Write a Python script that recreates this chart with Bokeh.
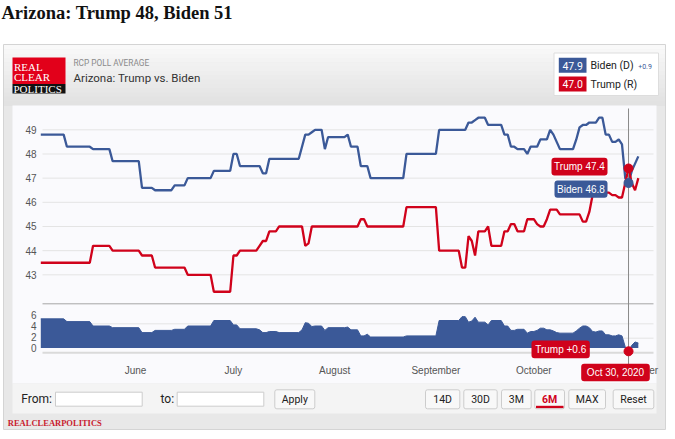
import datetime as dt
from bokeh.plotting import figure
from bokeh.models import (Range1d, FixedTicker, DatetimeTickFormatter,
                          BoxAnnotation, Label)
from bokeh.embed import file_html
from bokeh.resources import INLINE

# ---------------- data ----------------
dates = ["2020-05-03", "2020-05-10", "2020-05-11", "2020-05-18", "2020-05-19", "2020-05-24",
         "2020-05-25", "2020-06-02", "2020-06-03", "2020-06-06", "2020-06-07", "2020-06-12",
         "2020-06-13", "2020-06-16", "2020-06-17", "2020-06-24", "2020-06-25", "2020-06-30",
         "2020-07-01", "2020-07-02", "2020-07-03", "2020-07-08", "2020-07-09", "2020-07-10",
         "2020-07-11", "2020-07-12", "2020-07-14", "2020-07-15", "2020-07-21", "2020-07-22",
         "2020-07-23", "2020-07-24", "2020-07-25", "2020-07-26", "2020-07-28", "2020-07-29",
         "2020-07-30", "2020-08-04", "2020-08-05", "2020-08-06", "2020-08-08", "2020-08-09",
         "2020-08-10", "2020-08-11", "2020-08-12", "2020-08-22", "2020-08-23", "2020-09-01",
         "2020-09-02", "2020-09-08", "2020-09-09", "2020-09-10", "2020-09-11", "2020-09-12",
         "2020-09-13", "2020-09-14", "2020-09-16", "2020-09-17", "2020-09-18", "2020-09-21",
         "2020-09-22", "2020-09-23", "2020-09-24", "2020-09-25", "2020-09-26", "2020-09-28",
         "2020-09-29", "2020-09-30", "2020-10-01", "2020-10-02", "2020-10-03", "2020-10-04",
         "2020-10-05", "2020-10-06", "2020-10-07", "2020-10-08", "2020-10-09", "2020-10-13",
         "2020-10-14", "2020-10-15", "2020-10-16", "2020-10-17", "2020-10-18", "2020-10-19",
         "2020-10-20", "2020-10-21", "2020-10-22", "2020-10-23", "2020-10-24", "2020-10-25",
         "2020-10-26", "2020-10-27", "2020-10-28", "2020-10-29", "2020-10-30", "2020-10-31",
         "2020-11-01", "2020-11-02"]
biden = [48.8, 48.8, 48.3, 48.3, 48.2, 48.2,
         47.7, 47.7, 46.6, 46.6, 46.5, 46.5,
         46.7, 46.7, 47.0, 47.0, 47.3, 47.3,
         48.0, 48.0, 47.5, 47.5, 47.5, 47.2,
         47.2, 47.8, 47.8, 47.8, 47.8, 48.3,
         48.8, 48.8, 48.9, 49.0, 49.0, 48.2,
         48.7, 48.7, 48.8, 48.3, 48.3, 47.5,
         47.5, 47.5, 47.0, 47.0, 48.0, 48.0,
         49.0, 49.0, 49.0, 49.0, 49.3, 49.3,
         49.4, 49.5, 49.5, 49.2, 49.2, 49.2,
         48.8, 48.8, 48.3, 48.3, 48.2, 48.2,
         48.0, 48.3, 48.3, 48.3, 48.6, 48.6,
         48.6, 49.0, 48.8, 48.5, 48.2, 48.2,
         48.6, 49.1, 49.2, 49.2, 49.3, 49.3,
         49.3, 49.5, 49.5, 48.8, 48.8, 48.5,
         48.5, 48.6, 48.4, 47.0, 46.8, 47.3,
         47.6, 47.9]
trump = [43.5, 43.5, 43.5, 43.5, 44.2, 44.2,
         44.0, 44.0, 43.8, 43.8, 43.3, 43.3,
         43.3, 43.3, 43.0, 43.0, 42.3, 42.3,
         43.8, 43.8, 44.0, 44.0, 44.2, 44.4,
         44.4, 44.8, 44.8, 45.0, 45.0, 45.0,
         44.2, 44.3, 45.0, 45.0, 45.0, 45.0,
         45.0, 45.0, 45.0, 45.0, 45.0, 45.3,
         45.3, 45.0, 45.0, 45.0, 45.8, 45.8,
         44.0, 44.0, 43.3, 43.3, 44.6, 44.4,
         43.8, 44.8, 44.8, 45.0, 44.2, 44.2,
         44.8, 44.8, 45.1, 45.1, 44.8, 44.8,
         45.3, 45.3, 45.3, 45.1, 45.0, 45.0,
         45.3, 45.7, 45.7, 45.7, 45.5, 45.5,
         45.5, 45.5, 45.2, 45.2, 45.6, 46.3,
         46.4, 46.4, 46.4, 46.4, 46.4, 46.3,
         46.3, 46.2, 46.2, 46.8, 47.4, 46.8,
         46.5, 47.0]
month_ticks = ["2020-06-01", "2020-07-01", "2020-08-01", "2020-09-01", "2020-10-01",
               "2020-11-01"]
main_ticks = [43, 44, 45, 46, 47, 48, 49]
nav_ticks = [0, 2, 4, 6]
hover_date = "2020-10-30"
headline = "Arizona: Trump 48, Biden 51"
chart_name = "Arizona: Trump vs. Biden"

BLUE = "#3b5998"
RED = "#d0021b"
PANEL = "#fafafd"

# ---------------- geometry ----------------
W, H = 675, 439
PL, PR = 42, 653                 # left / right edge of the plotting area (page px)
EPOCH = dt.datetime(1970, 1, 1)


def ms(d):
    return (d - EPOCH).total_seconds() * 1000.0


XA = ms(dt.datetime(2020, 5, 3, 12, 30))      # date at PL
XB = ms(dt.datetime(2020, 11, 6, 15, 36))     # date at PR
Y49, PX_PER = 129.3, 24.17                    # main scale: y px of 49, px per point
NAV_ZERO, NAV_PX = 347.5, 5.5                 # navigator scale


def X(px):
    return XA + (px - PL) * (XB - XA) / (PR - PL)


def Y(py):
    return 49 - (py - Y49) / PX_PER


def NV(py):
    return (NAV_ZERO - py) / NAV_PX


xd = [dt.datetime.strptime(s, "%Y-%m-%d") for s in dates]
spread = [round(b - t, 2) for b, t in zip(biden, trump)]
hi = dates.index(hover_date)
hx = ms(xd[hi])

p = figure(width=W, height=H, x_axis_type="datetime", title=None,
           x_range=Range1d(X(0), X(W)), y_range=Range1d(Y(H), Y(0)),
           output_backend="svg", toolbar_location=None, min_border=0)
p.extra_y_ranges = {"nav": Range1d(NV(H), NV(0))}
p.background_fill_color = "white"
p.border_fill_color = "white"
p.outline_line_color = None


def box(x0, y0, x1, y1, fill, line=None, level="image", lw=1, radius=0):
    p.add_layout(BoxAnnotation(left=X(x0), right=X(x1), top=Y(y0), bottom=Y(y1),
                               fill_color=fill, fill_alpha=1,
                               line_color=line, line_alpha=1 if line else 0,
                               line_width=lw, level=level, border_radius=radius))


def text(px, py, s, size, color, font="Roboto", align="left", style="normal",
         level="annotation"):
    p.add_layout(Label(x=X(px), y=Y(py), text=s, text_font=font,
                       text_font_size=f"{size}px", text_color=color,
                       text_align=align, text_baseline="middle",
                       text_font_style=style, level=level))


def hline(py, col, lw):
    p.segment(x0=[X(PL)], x1=[X(PR)], y0=[Y(py)], y1=[Y(py)], line_color=col,
              line_width=lw, level="underlay")


# ---------------- page decoration ----------------
text(1, 12.5, headline, 18.5, "#111111", font="Liberation Serif", style="bold")
box(3, 44, 665, 429, "#e8e8e8", line="#d4d4d4")
n = 14
for i in range(n):
    c = int(249 - (249 - 226) * i / (n - 1))
    col = "#%02x%02x%02x" % (c, c, c)
    box(3.5, 44.5 + i * (60.5 / n), 664.5, 44.5 + (i + 1) * (60.5 / n) + 0.5, col)
box(12, 105, 656, 383, PANEL)
box(12, 383, 656, 413, "#f4f4f4")

# logo
box(12, 57, 65, 83.5, "#e2001a", level="underlay")
box(12, 83.5, 65, 93, "#111111", level="underlay")
text(13.5, 66.5, "REAL", 11, "white", font="Liberation Serif")
text(13.5, 76.8, "CLEAR", 11, "white", font="Liberation Serif")
text(13.0, 88.3, "POLITICS", 11, "white", font="Liberation Serif")
text(73, 62.3, "RCP POLL AVERAGE", 8.3, "#8a8a8a")
text(73, 77.7, chart_name, 11.5, "#333333")

# legend
box(553.5, 52.5, 658, 95, "white", line="#dddddd", level="underlay")
box(558.3, 57.3, 586, 72.3, BLUE, level="underlay")
box(558.3, 76, 586, 91, RED, level="underlay")
text(572.2, 65, f"{biden[-1]:.1f}", 10.5, "white", align="center")
text(572.2, 83.6, f"{trump[-1]:.1f}", 10.5, "white", align="center")
text(590, 65, "Biden (D)", 10.5, "#222222")
text(590, 83.6, "Trump (R)", 10.5, "#222222")
lead = spread[-1]
text(637.7, 66, f"{'+' if lead >= 0 else '-'}{abs(lead):.1f}", 7, BLUE)

# controls
text(20.7, 398.3, "From:", 12, "#222222")
box(55, 391.7, 141.7, 405.7, "white", line="#cccccc", level="underlay")
text(160, 398.3, "to:", 12, "#222222")
box(176.7, 391.7, 263.3, 405.7, "white", line="#cccccc", level="underlay")
box(274.3, 389.3, 314.3, 408.3, "#f8f8f8", line="#cccccc", level="underlay", radius=2)
text(294.3, 399, "Apply", 10.5, "#222222", align="center")
buttons = [("14D", 425, 459.3), ("30D", 463.3, 496.7), ("3M", 501, 530.7),
           ("6M", 534.3, 564), ("MAX", 568.3, 605), ("Reset", 612.7, 653.3)]
for lab, a, b in buttons:
    box(a, 389.3, b, 408.3, "#f8f8f8", line="#cccccc", level="underlay", radius=2)
    sel = lab == "6M"
    text((a + b) / 2, 399, lab, 10.5, RED if sel else "#222222", align="center",
         style="bold" if sel else "normal")
box(535.5, 405.3, 563, 407.6, RED, level="annotation")
text(7.3, 422, "REALCLEARPOLITICS", 8.5, "#c8202f", font="Liberation Serif", style="bold")

# ---------------- axes & grids ----------------
p.xaxis.ticker = FixedTicker(ticks=[ms(dt.datetime.strptime(s, "%Y-%m-%d"))
                                    for s in month_ticks])
p.xaxis.formatter = DatetimeTickFormatter(months="%B", days="%B")
p.xaxis.axis_line_color = None
p.xaxis.major_tick_line_color = None
p.xaxis.minor_tick_line_color = None
p.xaxis.major_tick_out = 0
p.xaxis.major_tick_in = 0
p.xaxis.major_label_standoff = -75
p.xaxis.major_label_text_font = "Liberation Sans"
p.xaxis.major_label_text_font_size = "10px"
p.xaxis.major_label_text_color = "#555555"
p.xgrid.visible = False


def nav_as_main(v):
    return round(Y(NAV_ZERO - NAV_PX * v), 6)


ytick_vals = list(main_ticks) + [nav_as_main(v) for v in nav_ticks]
overrides = {t: str(t) for t in main_ticks}
overrides.update({nav_as_main(v): str(v) for v in nav_ticks})
p.yaxis.ticker = FixedTicker(ticks=ytick_vals)
p.yaxis.major_label_overrides = overrides
p.yaxis.axis_line_color = None
p.yaxis.major_tick_line_color = None
p.yaxis.minor_tick_line_color = None
p.yaxis.major_tick_out = 0
p.yaxis.major_tick_in = 0
p.yaxis.major_label_standoff = -36
p.yaxis.major_label_text_font = "Liberation Sans"
p.yaxis.major_label_text_font_size = "10px"
p.yaxis.major_label_text_color = "#555555"
p.ygrid.visible = False

# horizontal grid lines of the price chart, and the navigator frame
p.segment(x0=[X(PL)] * len(main_ticks), x1=[X(PR)] * len(main_ticks),
          y0=main_ticks, y1=main_ticks, line_color="#e4e4e4", line_width=1,
          level="underlay")
for py, col, lw in [(303.3, "#a5a5a5", 1), (323.3, "#e4e4e4", 1), (337.7, "#e4e4e4", 1),
                    (352.2, "#dadada", 2)]:
    hline(py, col, lw)

# ---------------- data marks ----------------
p.varea(x=xd, y1=[0] * len(xd), y2=spread, fill_color=BLUE, fill_alpha=1,
        y_range_name="nav")
p.line(xd, spread, line_color=BLUE, line_width=1, y_range_name="nav")
p.line(xd, biden, line_color=BLUE, line_width=2.3)
p.line(xd, trump, line_color=RED, line_width=2.3)

# crosshair
p.segment(x0=[hx], x1=[hx], y0=[Y(108)], y1=[Y(363.5)], line_color="#8a8a8a",
          line_width=1)
p.scatter([xd[hi]], [trump[hi]], size=9, color=RED)
p.scatter([xd[hi]], [biden[hi]], size=9, color=BLUE)
p.scatter([xd[hi]], [spread[hi]], size=9, color=RED, y_range_name="nav")

# tooltips
TF = "Liberation Sans"
box(551, 157.3, 607, 175, RED, level="overlay", radius=3)
text(579, 166.3, f"Trump {trump[hi]:.1f}", 10, "white", font=TF, align="center",
     level="overlay")
box(554, 180, 607, 197.3, BLUE, level="overlay", radius=3)
text(580.5, 188.8, f"Biden {biden[hi]:.1f}", 10, "white", font=TF, align="center",
     level="overlay")
sp = spread[hi]
box(531, 340, 589.3, 357.7, RED, level="overlay", radius=3)
text(560.2, 349, f"{'Trump' if sp < 0 else 'Biden'} +{abs(sp):.1f}", 10, "white",
     font=TF, align="center", level="overlay")
box(580.7, 363.3, 649.3, 380.7, RED, level="overlay", radius=3)
text(615, 372.2, xd[hi].strftime("%b %d, %Y").replace(" 0", " "), 10, "white",
     font=TF, align="center", level="overlay")

open("out.html", "w").write(file_html(p, INLINE))
